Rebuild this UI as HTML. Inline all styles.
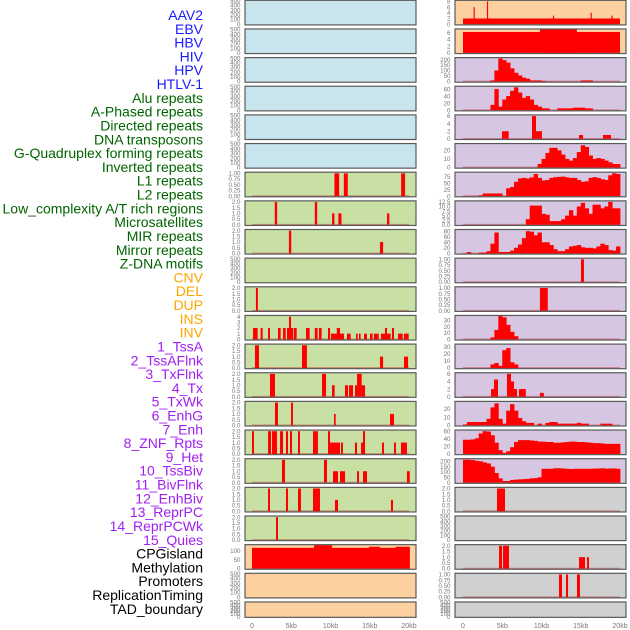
<!DOCTYPE html>
<html><head><meta charset="utf-8"><style>
html,body{margin:0;padding:0;background:#fff;}
svg{display:block;}
</style></head><body>
<svg id="chart" xmlns="http://www.w3.org/2000/svg" width="630" height="630" viewBox="0 0 630 630" font-family="Liberation Sans, sans-serif"></svg>
<script>
// ---- labels ----
const labelNames = ["AAV2","EBV","HBV","HIV","HPV","HTLV-1","Alu repeats","A-Phased repeats","Directed repeats","DNA transposons","G-Quadruplex forming repeats","Inverted repeats","L1 repeats","L2 repeats","Low_complexity A/T rich regions","Microsatellites","MIR repeats","Mirror repeats","Z-DNA motifs","CNV","DEL","DUP","INS","INV","1_TssA","2_TssAFlnk","3_TxFlnk","4_Tx","5_TxWk","6_EnhG","7_Enh","8_ZNF_Rpts","9_Het","10_TssBiv","11_BivFlnk","12_EnhBiv","13_ReprPC","14_ReprPCWk","15_Quies","CPGisland","Methylation","Promoters","ReplicationTiming","TAD_boundary"];
const labelGroups = [0,0,0,0,0,0,1,1,1,1,1,1,1,1,1,1,1,1,1,2,2,2,2,2,3,3,3,3,3,3,3,3,3,3,3,3,3,3,3,4,4,4,4,4];
const xTickLabels = ["0","5kb","10kb","15kb","20kb"];
const xTickValues = [0,5,10,15,20];

// ---- left column segments [startKb, endKb, value] ----
const L6_segs = [[10.5,11.1,1],[11.7,12.2,1],[19.0,19.5,1]];
const L7_segs = [[2.9,3.2,2],[8.0,8.3,2],[10.2,10.5,1],[11.0,11.4,1],[17.2,17.5,1]];
const L8_segs = [[4.7,5.0,2],[16.3,16.7,1]];
const L10_segs = [[0.5,0.75,2]];
const L11_segs = [[0.13,0.72,2],[1.1,1.36,2],[2.04,2.29,2],[3.31,3.65,2],[3.95,4.29,2],[4.46,5.22,2],[4.71,4.97,4],[5.31,5.69,2],[6.88,7.34,2],[8.0,8.36,2],[8.53,8.87,2],[9.68,9.94,2],[10.06,11.21,1],[10.8,11.21,2],[11.21,11.72,1],[12.1,12.57,1],[13.25,13.46,1],[13.63,13.84,1],[14.27,14.65,1],[15.03,15.37,1],[15.54,16.14,1],[16.43,17.66,1],[16.94,17.2,2],[17.83,18.09,2],[18.6,19.2,1],[19.36,19.96,1]];
const L12_segs = [[0.38,0.89,2],[6.37,7.0,2],[16.3,16.7,1],[19.36,19.88,1]];
const L13_segs = [[2.29,2.93,2],[8.92,9.43,2],[10.19,10.53,1],[11.85,12.23,1],[12.36,12.87,1],[13.12,13.38,1],[13.38,13.97,2],[13.97,14.4,1]];
const L14_segs = [[2.93,3.31,2],[4.97,5.22,2],[10.45,10.66,1],[17.58,18.09,1]];
const L15_segs = [[0,0.25,2],[2.04,2.42,2],[2.55,3.18,2],[3.57,3.95,2],[4.33,4.59,2],[4.84,5.1,2],[5.86,6.11,2],[7.77,8.4,2],[9.68,9.94,2],[9.94,11.21,1],[11.34,11.59,1],[13.12,13.38,1],[13.89,14.14,1],[14.14,14.4,2],[16.56,16.81,1],[18.09,18.34,1],[18.98,19.74,1]];
const L16_segs = [[3.82,4.2,2],[9.17,9.55,2],[10.32,10.96,1],[11.21,11.85,1],[13.38,13.63,1],[14.14,14.65,1],[19.74,20.1,1]];
const L17_segs = [[2.04,2.29,2],[4.33,4.59,2],[5.86,6.24,2],[7.77,8.15,2],[8.15,8.66,2],[10.57,10.96,1],[17.7,17.96,1]];
const L18_segs = [[3.06,3.31,2]];
const L19_segs = [[0,20.1,117],[7.9,10.2,132],[14.9,16.3,123],[18.3,20.1,123]];

// ---- right column ----
const R0_segs = [[0,20,2],[1.35,1.5,6],[3.05,3.2,8],[11.45,11.6,3],[16.25,16.4,4],[18.9,19.05,3]];
const R1_segs = [[0,20,6.2],[9.8,14.5,7]];
const R4_segs = [[4.97,5.82,2],[8.79,9.3,6],[9.3,10.06,2],[14.78,15.29,1],[17.83,18.85,1]];
const R9_segs = [[15.03,15.41,1]];
const R10_segs = [[9.8,10.8,1]];
const R13_segs = [[3.57,3.95,2],[3.95,4.46,4.5],[5.6,6.11,6],[6.11,6.5,4],[6.5,6.88,2],[7.13,8.0,2],[9.8,10.3,1]];
const R17_segs = [[4.33,5.35,2]];
const R19_segs = [[4.59,4.97,2],[5.1,5.86,2],[14.78,15.54,1],[15.8,16.05,1]];
const R20_segs = [[12.23,12.61,1],[13.12,13.38,1],[14.52,14.9,1]];
// 0.5kb bins (40 bins, 0-20kb)
const R2_bins = [0,0,0,0,0,0,0,10,100,210,195,172,120,80,55,35,25,10,10,10,5,0,0,0,0,0,0,0,0,0,10,10,10,0,0,0,0,0,0,0];
const R3_bins = [0,0,0,0,0,0,0,15,60,10,30,40,55,65,50,35,40,30,15,10,5,5,0,0,5,5,5,5,7,7,7,5,5,0,0,0,0,0,0,0];
const R5_bins = [0,0,0,0,0,0,0,0,0,0,0,0,0,0,0,0,0,0,0,4,10,17,23,23,20,15,10,8,11,18,26,24,14,10,11,10,8,6,4,4];
const R6_bins = [0,0,0,0,3,10,10,10,10,10,0,30,35,55,68,70,68,72,85,70,60,62,70,73,74,75,72,70,70,62,55,57,70,73,70,65,62,80,88,85];
const R7_bins = [0,0,0,0,0,0,0,0,0,0,0,0,0,0,0,0,3,10.5,10.5,10.5,6,5.5,2,2,2,3,5,8,5,10,12,9,6,11,11,9,10,12.5,9,9];
const R8_bins = [0,5,0,0,3,3,8,35,75,5,5,5,10,20,32,55,80,78,65,75,40,40,30,15,8,8,15,25,27,30,22,20,20,18,25,35,30,12,10,25];
const R11_bins = [0,0,0,0,0,0,0,3,15,37,35,23,12,5,0,0,0,0,0,0,0,0,0,0,0,0,0,0,0,0,0,0,0,0,0,0,0,0,0,0];
const R12_bins = [0,0,0,0,0,0,0,5,7,3,25,28,8,5,0,0,0,0,0,0,0,0,0,0,0,0,0,0,0,0,0,0,0,0,0,0,0,0,0,0];
const R14_bins = [1,4,4,4,4,4,8,22,27,8,2,18,26,18,9,5,3,3,0,2,0,3,4,4,2,2,2,2,2,3,2,2,0,0,0,2,2,2,0,0];
const R15_bins = [38,38,39,42,55,61,60,50,30,10,3,7,18,32,37,37,37,36,35,33,33,32,32,30,30,31,32,33,33,32,32,31,30,29,29,28,27,27,27,27];
const R16_bins = [215,215,212,205,200,190,180,150,90,40,15,15,25,28,30,32,35,40,42,50,130,130,130,135,135,133,130,128,130,130,130,130,130,132,133,135,132,133,133,130];

// tick label sets
const T_empty = ["0","100","200","300","400","500"], V_empty=[0,100,200,300,400,500];
const T_1 = ["0.00","0.25","0.50","0.75","1.00"], V_1=[0,0.25,0.5,0.75,1];
const T_2 = ["0.0","0.5","1.0","1.5","2.0"], V_2=[0,0.5,1,1.5,2];
const T_4 = ["0","1","2","3","4"], V_4=[0,1,2,3,4];
const T_cpg = ["0","50","100"], V_cpg=[0,50,100];
const T_8 = ["0","2","4","6","8"], V_8=[0,2,4,6,8];
const T_6 = ["0","2","4","6"], V_6=[0,2,4,6];
const T_200 = ["0","50","100","150","200"], V_200=[0,50,100,150,200];
const T_60 = ["0","20","40","60"], V_60=[0,20,40,60];
const T_20 = ["0","10","20"], V_20=[0,10,20];
const T_75 = ["0","25","50","75"], V_75=[0,25,50,75];
const T_125 = ["0.0","2.5","5.0","7.5","10.0","12.5"], V_125=[0,2.5,5,7.5,10,12.5];
const T_80 = ["0","20","40","60","80"], V_80=[0,20,40,60,80];
const T_30 = ["0","10","20","30"], V_30=[0,10,20,30];

const BLUE="#c8e4ec", GREEN="#c8e0a4", ORANGE="#fdd09f", PURPLE="#d6c6e2", GRAY="#d0d0d0";
const leftPanels = [
 {bg:BLUE,t:T_empty,v:V_empty,ymax:510},{bg:BLUE,t:T_empty,v:V_empty,ymax:510},{bg:BLUE,t:T_empty,v:V_empty,ymax:510},
 {bg:BLUE,t:T_empty,v:V_empty,ymax:510},{bg:BLUE,t:T_empty,v:V_empty,ymax:510},{bg:BLUE,t:T_empty,v:V_empty,ymax:510},
 {bg:GREEN,t:T_1,v:V_1,ymax:1.05,s:L6_segs},{bg:GREEN,t:T_2,v:V_2,ymax:2.1,s:L7_segs},{bg:GREEN,t:T_2,v:V_2,ymax:2.1,s:L8_segs},
 {bg:GREEN,t:T_empty,v:V_empty,ymax:510},{bg:GREEN,t:T_2,v:V_2,ymax:2.1,s:L10_segs},{bg:GREEN,t:T_4,v:V_4,ymax:4.2,s:L11_segs},
 {bg:GREEN,t:T_2,v:V_2,ymax:2.1,s:L12_segs},{bg:GREEN,t:T_2,v:V_2,ymax:2.1,s:L13_segs},{bg:GREEN,t:T_2,v:V_2,ymax:2.1,s:L14_segs},
 {bg:GREEN,t:T_2,v:V_2,ymax:2.1,s:L15_segs},{bg:GREEN,t:T_2,v:V_2,ymax:2.1,s:L16_segs},{bg:GREEN,t:T_2,v:V_2,ymax:2.1,s:L17_segs},
 {bg:GREEN,t:T_2,v:V_2,ymax:2.1,s:L18_segs},{bg:ORANGE,t:T_cpg,v:V_cpg,ymax:135,s:L19_segs},
 {bg:ORANGE,t:T_empty,v:V_empty,ymax:510},{bg:ORANGE,t:T_empty,v:V_empty,ymax:510}];
const rightPanels = [
 {bg:ORANGE,t:T_8,v:V_8,ymax:8.4,s:R0_segs},{bg:ORANGE,t:T_6,v:V_6,ymax:7.1,s:R1_segs},
 {bg:PURPLE,t:T_200,v:V_200,ymax:218,b:R2_bins},{bg:PURPLE,t:T_60,v:V_60,ymax:68,b:R3_bins},
 {bg:PURPLE,t:T_6,v:V_6,ymax:6.3,s:R4_segs},{bg:PURPLE,t:T_20,v:V_20,ymax:28,b:R5_bins},
 {bg:PURPLE,t:T_75,v:V_75,ymax:92,b:R6_bins},{bg:PURPLE,t:T_125,v:V_125,ymax:13.1,b:R7_bins},
 {bg:PURPLE,t:T_80,v:V_80,ymax:86,b:R8_bins},{bg:PURPLE,t:T_1,v:V_1,ymax:1.05,s:R9_segs},
 {bg:PURPLE,t:T_1,v:V_1,ymax:1.05,s:R10_segs},{bg:PURPLE,t:T_30,v:V_30,ymax:38,b:R11_bins},
 {bg:PURPLE,t:T_30,v:V_30,ymax:33.6,b:R12_bins},{bg:PURPLE,t:T_6,v:V_6,ymax:6.3,s:R13_segs},
 {bg:PURPLE,t:T_20,v:V_20,ymax:29.4,b:R14_bins},{bg:PURPLE,t:T_60,v:V_60,ymax:64,b:R15_bins},
 {bg:PURPLE,t:T_200,v:V_200,ymax:225,b:R16_bins},{bg:GRAY,t:T_2,v:V_2,ymax:2.1,s:R17_segs},
 {bg:GRAY,t:T_empty,v:V_empty,ymax:510},{bg:GRAY,t:T_2,v:V_2,ymax:2.1,s:R19_segs},
 {bg:GRAY,t:T_1,v:V_1,ymax:1.05,s:R20_segs},{bg:GRAY,t:T_empty,v:V_empty,ymax:510}];

const NS="http://www.w3.org/2000/svg";
const svg=document.getElementById('chart');
function mk(tag,attrs,parent){const e=document.createElementNS(NS,tag);for(const k in attrs)e.setAttribute(k,attrs[k]);(parent||svg).appendChild(e);return e;}

const labelColors=["#1a1aff","#006400","#ffa500","#a020f0","#000000"];
labelNames.forEach((n,i)=>{
  const t=mk('text',{x:203,y:15+13.81*i+5,'text-anchor':'end','font-size':'14',fill:labelColors[labelGroups[i]]});
  t.textContent=n;
  
  
});

function drawCol(panels,left,zeroX,colName){
  const W=171, pxPerKb=7.85;
  const xs=kb=>zeroX+kb*pxPerKb;
  panels.forEach((p,i)=>{
    const top=0.3+28.65*i;
    const h=(i===21)?15.4:24.6;
    const g=mk('g',{});
    
    
    const ymin=-0.03*p.ymax;
    const ys=v=>top+h-((v-ymin)/(p.ymax-ymin))*h;
    mk('rect',{x:left,y:top,width:W,height:h,fill:p.bg},g);
    const empty=!p.s&&!p.b;
    if(!empty){
      const base=mk('line',{x1:xs(0),x2:xs(20),y1:ys(0),y2:ys(0),stroke:'rgba(190,40,40,0.45)','stroke-width':1.6},g);
      
      
    }
    if(p.s){p.s.forEach(s=>{
      const r=mk('rect',{x:xs(s[0]),y:ys(s[2]),width:Math.max(0.8,xs(s[1])-xs(s[0])),height:ys(0)-ys(s[2]),fill:'#ff0000'},g);
      
      
    });}
    if(p.b){p.b.forEach((v,j)=>{
      if(v<=0)return;
      const r=mk('rect',{x:xs(j*0.5),y:ys(v),width:xs(0.5)-xs(0)+0.4,height:ys(0)-ys(v),fill:'#ff0000'},g);
      
      
    });}
    mk('rect',{x:left,y:top,width:W,height:h,fill:'none',stroke:'#5a5a5a','stroke-width':1.2},g);
    p.v.forEach((v,k)=>{
      const t=mk('text',{x:left-4.5,y:ys(v)+2.2,'text-anchor':'end','font-size':'6.2',fill:'#777'},g);
      t.textContent=p.t[k];
      
      
    });
  });
  xTickValues.forEach((v,k)=>{
    const t=mk('text',{x:xs(v),y:628,'text-anchor':'middle','font-size':'7',fill:'#777'});
    t.textContent=xTickLabels[k];
    
    
  });
}
drawCol(leftPanels,245,252,'left');
drawCol(rightPanels,455,463,'right');
</script>
</body></html>
